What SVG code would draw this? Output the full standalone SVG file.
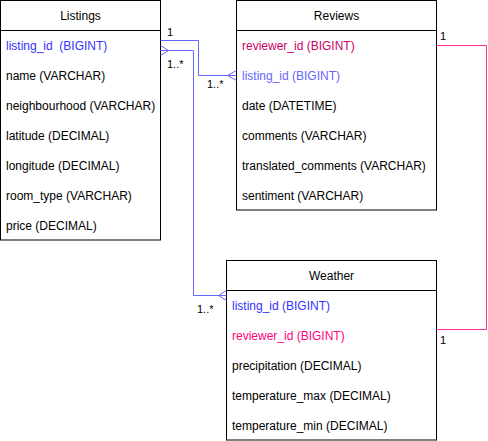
<svg xmlns="http://www.w3.org/2000/svg" width="488" height="441" viewBox="0 0 488 441">
<style>
.box{fill:#fff;stroke:#000;stroke-width:1}
text{font-family:"Liberation Sans",Arial,sans-serif;font-size:12px;fill:#000;white-space:pre}
.t{text-anchor:middle}
.lbl{font-size:11px}
.b1{fill:#3333FF}
.b2{fill:#6666FF}
.p1{fill:#CC0066}
.p2{fill:#FF0080}
.cb{fill:none;stroke:#6666FF;stroke-width:1}
.cp{fill:none;stroke:#FF3399;stroke-width:1}
</style>
<rect width="488" height="441" fill="#fff"/>
<g id="listings">
<rect class="box" x="0.5" y="0.5" width="160" height="239.5"/>
<line x1="0.5" y1="30.5" x2="160.5" y2="30.5" stroke="#000"/>
<text class="t" x="80.5" y="19.5">Listings</text>
<text class="b1" x="6" y="49.5" xml:space="preserve">listing_id  (BIGINT)</text>
<text x="6" y="79.5">name (VARCHAR)</text>
<text x="6" y="109.5">neighbourhood (VARCHAR)</text>
<text x="6" y="139.5">latitude (DECIMAL)</text>
<text x="6" y="169.5">longitude (DECIMAL)</text>
<text x="6" y="199.5">room_type (VARCHAR)</text>
<text x="6" y="229.5">price (DECIMAL)</text>
</g>
<g id="reviews">
<rect class="box" x="236.5" y="0.5" width="200" height="209.5"/>
<line x1="236.5" y1="30.5" x2="436.5" y2="30.5" stroke="#000"/>
<text class="t" x="336.5" y="19.5">Reviews</text>
<text class="p1" x="242" y="49.5">reviewer_id (BIGINT)</text>
<text class="b2" x="242" y="79.5">listing_id (BIGINT)</text>
<text x="242" y="109.5">date (DATETIME)</text>
<text x="242" y="139.5">comments (VARCHAR)</text>
<text x="242" y="169.5">translated_comments (VARCHAR)</text>
<text x="242" y="199.5">sentiment (VARCHAR)</text>
</g>
<g id="weather">
<rect class="box" x="226.5" y="260.5" width="210" height="179.5"/>
<line x1="226.5" y1="290.5" x2="436.5" y2="290.5" stroke="#000"/>
<text class="t" x="331.5" y="279.5">Weather</text>
<text class="b1" x="232" y="309.5">listing_id (BIGINT)</text>
<text class="p2" x="232" y="339.5">reviewer_id (BIGINT)</text>
<text x="232" y="369.5">precipitation (DECIMAL)</text>
<text x="232" y="399.5">temperature_max (DECIMAL)</text>
<text x="232" y="429.5">temperature_min (DECIMAL)</text>
</g>
<g id="connectors">
<path class="cb" d="M160.5,40.5 H198.5 V75.5 H236.5"/>
<path class="cb" d="M236.5,70.5 L227.5,75.5 L236.5,80.5"/>
<path class="cb" d="M160.5,50.5 H193.5 V295.5 H226.5"/>
<path class="cb" d="M160.5,45.5 L168.5,50.5 L160.5,55.5"/>
<path class="cb" d="M226.5,290.5 L218.5,295.5 L226.5,300.5"/>
<path class="cp" d="M436.5,45.5 H486.5 V329.5 H436.5"/>
<text class="lbl" x="167" y="36">1</text>
<text class="lbl" x="167" y="68">1..*</text>
<text class="lbl" x="207" y="88">1..*</text>
<text class="lbl" x="197" y="313">1..*</text>
<text class="lbl" x="440" y="40">1</text>
<text class="lbl" x="440" y="344">1</text>
</g>
</svg>
